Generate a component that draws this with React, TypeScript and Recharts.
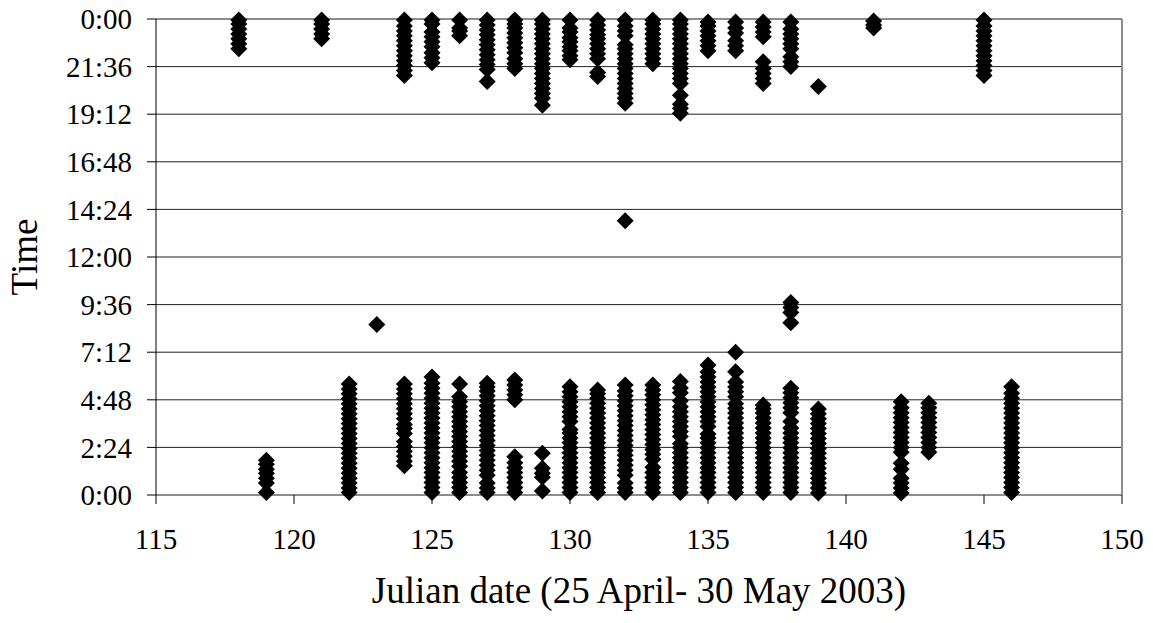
import {
  ScatterChart,
  Scatter,
  XAxis,
  YAxis,
  CartesianGrid,
  ReferenceLine,
} from 'recharts';

const day118 = [22.5, 22.75, 23.0, 23.25, 23.5, 23.75, 23.95];
const day119 = [0.13, 0.6, 0.85, 1.1, 1.3, 1.55, 1.75];
const day121 = [23.0, 23.25, 23.5, 23.75, 23.95];
const day122 = [
  0.13, 0.35, 0.6, 0.85, 1.1, 1.35, 1.6, 1.85, 2.1, 2.35, 2.6, 2.85, 3.1, 3.35, 3.6, 3.85, 4.1,
  4.35, 4.6, 4.85, 5.1, 5.35, 5.6,
];
const day123 = [8.6];
const day124 = [
  1.47, 1.7, 1.95, 2.2, 2.45, 2.7, 3.1, 3.35, 3.55, 3.85, 4.1, 4.35, 4.6, 4.85, 5.1, 5.35, 5.6,
  21.15, 21.4, 21.65, 21.9, 22.15, 22.4, 22.65, 22.9, 23.15, 23.4, 23.65, 23.95,
];
const day125 = [
  0.13, 0.38, 0.63, 0.88, 1.13, 1.38, 1.63, 1.88, 2.13, 2.38, 2.63, 2.88, 3.13, 3.38, 3.63, 3.88,
  4.13, 4.38, 4.63, 4.88, 5.13, 5.38, 5.63, 5.95,
  21.8, 22.05, 22.3, 22.6, 22.85, 23.1, 23.35, 23.75, 23.95,
];
const day126 = [
  0.13, 0.38, 0.63, 0.88, 1.13, 1.45, 1.7, 1.95, 2.2, 2.45, 2.7, 2.95, 3.2, 3.45, 3.7, 3.95, 4.2,
  4.45, 4.7, 4.95, 5.6,
  23.15, 23.4, 23.55, 23.95,
];
const day127 = [
  0.13, 0.35, 0.6, 1.0, 1.25, 1.5, 1.75, 2.0, 2.25, 2.5, 2.75, 3.0, 3.25, 3.5, 3.75, 4.0, 4.25,
  4.5, 4.75, 5.0, 5.25, 5.45, 5.63,
  20.85, 21.45, 21.7, 21.95, 22.2, 22.45, 22.7, 22.95, 23.2, 23.45, 23.7, 23.95,
];
const day128 = [
  0.13, 0.38, 0.63, 0.88, 1.13, 1.38, 1.63, 1.93, 4.8, 5.05, 5.3, 5.55, 5.8,
  21.5, 21.75, 22.0, 22.3, 22.55, 22.8, 23.05, 23.3, 23.55, 23.75, 23.95,
];
const day129 = [
  0.2, 0.9, 1.1, 1.35, 2.1,
  19.65, 20.0, 20.25, 20.5, 20.75, 21.0, 21.25, 21.5, 21.75, 22.0, 22.25, 22.5, 22.75, 23.0,
  23.25, 23.5, 23.75, 23.95,
];
const day130 = [
  0.13, 0.38, 0.63, 0.88, 1.13, 1.38, 1.63, 1.88, 2.13, 2.38, 2.63, 2.88, 3.13, 3.3, 3.7, 3.95,
  4.2, 4.45, 4.7, 4.95, 5.2, 5.46,
  21.95, 22.15, 22.4, 22.6, 22.85, 23.05, 23.35, 23.55, 23.95,
];
const day131 = [
  0.13, 0.38, 0.63, 0.88, 1.13, 1.38, 1.63, 1.88, 2.13, 2.38, 2.63, 2.88, 3.13, 3.38, 3.63, 3.88,
  4.13, 4.38, 4.63, 4.88, 5.1, 5.3,
  21.1, 21.3, 22.0, 22.25, 22.5, 22.75, 23.0, 23.2, 23.45, 23.7, 23.95,
];
const day132 = [
  0.13, 0.35, 0.6, 1.0, 1.25, 1.5, 1.75, 2.0, 2.25, 2.5, 2.75, 3.0, 3.25, 3.5, 3.75, 4.0, 4.25,
  4.5, 4.75, 5.0, 5.25, 5.55,
  13.83,
  19.75, 20.0, 20.25, 20.5, 20.75, 21.0, 21.25, 21.5, 21.75, 22.0, 22.25, 22.5, 22.7, 23.15,
  23.4, 23.65, 23.95,
];
const day133 = [
  0.13, 0.38, 0.63, 0.88, 1.13, 1.4, 1.8, 2.05, 2.3, 2.55, 2.8, 3.05, 3.3, 3.55, 3.8, 4.05, 4.3,
  4.55, 4.8, 5.05, 5.3, 5.55,
  21.75, 22.0, 22.25, 22.5, 22.75, 23.0, 23.25, 23.5, 23.75, 23.95,
];
const day134 = [
  0.13, 0.38, 0.63, 0.88, 1.13, 1.38, 1.63, 1.88, 2.13, 2.38, 2.58, 2.95, 3.2, 3.45, 3.7, 3.95,
  4.2, 4.45, 4.75, 5.15, 5.4, 5.72,
  19.25, 19.5, 19.7, 20.15, 20.75, 21.0, 21.25, 21.5, 21.75, 22.0, 22.25, 22.5, 22.75, 23.0,
  23.25, 23.5, 23.75, 23.95,
];
const day135 = [
  0.13, 0.38, 0.63, 0.88, 1.13, 1.38, 1.63, 1.88, 2.13, 2.38, 2.63, 2.88, 3.08, 3.45, 3.7, 3.95,
  4.2, 4.45, 4.7, 4.95, 5.2, 5.45, 5.7, 5.95, 6.2, 6.56,
  22.4, 22.65, 22.9, 23.15, 23.4, 23.65, 23.85,
];
const day136 = [
  0.13, 0.38, 0.63, 0.88, 1.13, 1.38, 1.63, 1.88, 2.13, 2.38, 2.63, 2.88, 3.13, 3.38, 3.63, 3.88,
  4.13, 4.38, 4.6, 4.95, 5.2, 5.45, 5.7, 6.22, 7.2,
  22.4, 22.65, 22.9, 23.3, 23.55, 23.85,
];
const day137 = [
  0.13, 0.38, 0.63, 0.88, 1.13, 1.38, 1.63, 1.88, 2.13, 2.38, 2.63, 2.88, 3.13, 3.38, 3.63, 3.88,
  4.13, 4.35, 4.54,
  20.75, 21.0, 21.25, 21.5, 21.85, 23.1, 23.35, 23.6, 23.85,
];
const day138 = [
  0.13, 0.38, 0.63, 0.88, 1.13, 1.38, 1.63, 1.88, 2.13, 2.38, 2.63, 2.88, 3.13, 3.38, 3.7, 4.15,
  4.4, 4.65, 4.9, 5.15, 5.38,
  8.68, 9.2, 9.46, 9.71,
  21.6, 21.85, 22.1, 22.5, 22.75, 23.0, 23.25, 23.5, 23.85,
];
const day139 = [
  0.1, 0.35, 0.6, 0.85, 1.1, 1.35, 1.6, 1.85, 2.1, 2.35, 2.6, 2.85, 3.1, 3.35, 3.6, 3.85, 4.1,
  4.33,
  20.6,
];
const day141 = [23.55, 23.7, 23.9];
const day142 = [0.1, 0.35, 0.6, 0.85, 1.3, 1.6, 2.15, 2.4, 2.65, 2.9, 3.15, 3.4, 3.65, 3.9, 4.15, 4.4, 4.7];
const day143 = [2.15, 2.4, 2.65, 2.9, 3.15, 3.4, 3.65, 3.9, 4.15, 4.4, 4.62];
const day145 = [21.15, 21.4, 21.65, 21.9, 22.15, 22.4, 22.65, 22.9, 23.15, 23.4, 23.65, 23.95];
const day146 = [
  0.13, 0.38, 0.63, 0.88, 1.13, 1.38, 1.63, 1.88, 2.13, 2.38, 2.63, 2.88, 3.13, 3.38, 3.63, 3.88,
  4.13, 4.38, 4.63, 4.88, 5.13, 5.46,
];

const columns: [number, number[]][] = [
  [118, day118], [119, day119], [121, day121], [122, day122], [123, day123], [124, day124],
  [125, day125], [126, day126], [127, day127], [128, day128], [129, day129], [130, day130],
  [131, day131], [132, day132], [133, day133], [134, day134], [135, day135], [136, day136],
  [137, day137], [138, day138], [139, day139], [141, day141], [142, day142], [143, day143],
  [145, day145], [146, day146],
];

const dayTicks = [115, 120, 125, 130, 135, 140, 145, 150];
const timeTicks = [0, 2.4, 4.8, 7.2, 9.6, 12, 14.4, 16.8, 19.2, 21.6, 24];
const timeTickLabels = ['0:00', '2:24', '4:48', '7:12', '9:36', '12:00', '14:24', '16:48', '19:12', '21:36', '0:00'];

const points = columns.flatMap(([day, times]) => times.map((time) => ({ day, time })));

const FONT = '"Liberation Serif", "Times New Roman", serif';
const tickStyle = { fontSize: 29, fill: '#000', fontFamily: FONT };

/** Square diamond marker, like the spreadsheet's default diamond */
function Diamond(props: any) {
  const { cx, cy } = props;
  if (cx == null || cy == null) return null;
  const r = 8.5;
  return <path d={`M${cx},${cy - r}L${cx + r},${cy}L${cx},${cy + r}L${cx - r},${cy}Z`} fill="#000" />;
}

export default function App() {
  // positioned at the page corner so the chart uses the whole 1153x623 window
  return (
    <div style={{ position: 'absolute', left: 0, top: 0, width: 1153, height: 623, fontFamily: FONT }}>
      <ScatterChart width={1153} height={623} margin={{ top: 19, right: 31, bottom: 18, left: 0 }}>
        <CartesianGrid horizontal vertical={false} stroke="#222" />
        <ReferenceLine y={24} stroke="#8c8c8c" strokeWidth={2} />
        <ReferenceLine x={150} stroke="#8c8c8c" strokeWidth={2} />
        <XAxis
          type="number"
          dataKey="day"
          domain={[115, 150]}
          ticks={dayTicks}
          interval={0}
          height={110}
          tickSize={9}
          tickMargin={24}
          tick={tickStyle}
          tickLine={{ stroke: '#000' }}
          axisLine={{ stroke: '#8c8c8c', strokeWidth: 2 }}
          label={{
            content: ({ viewBox }: any) => (
              <text
                x={viewBox.x + viewBox.width / 2}
                y={viewBox.y + 108}
                textAnchor="middle"
                fontSize={37}
                fontFamily={FONT}
                fill="#000"
              >
                Julian date (25 April- 30 May 2003)
              </text>
            ),
          }}
        />
        <YAxis
          type="number"
          dataKey="time"
          domain={[0, 24]}
          ticks={timeTicks}
          interval={0}
          width={156}
          tickSize={9}
          tickMargin={15}
          tick={tickStyle}
          tickFormatter={(_v: number, i: number) => timeTickLabels[i]}
          tickLine={{ stroke: '#000' }}
          axisLine={{ stroke: '#000' }}
          label={{
            content: ({ viewBox }: any) => {
              const x = viewBox.x + 37;
              const y = viewBox.y + viewBox.height / 2;
              return (
                <text
                  x={x}
                  y={y}
                  transform={`rotate(-90 ${x} ${y})`}
                  textAnchor="middle"
                  fontSize={37}
                  fontFamily={FONT}
                  fill="#000"
                >
                  Time
                </text>
              );
            },
          }}
        />
        <Scatter data={points} shape={Diamond} isAnimationActive={false} />
      </ScatterChart>
    </div>
  );
}
